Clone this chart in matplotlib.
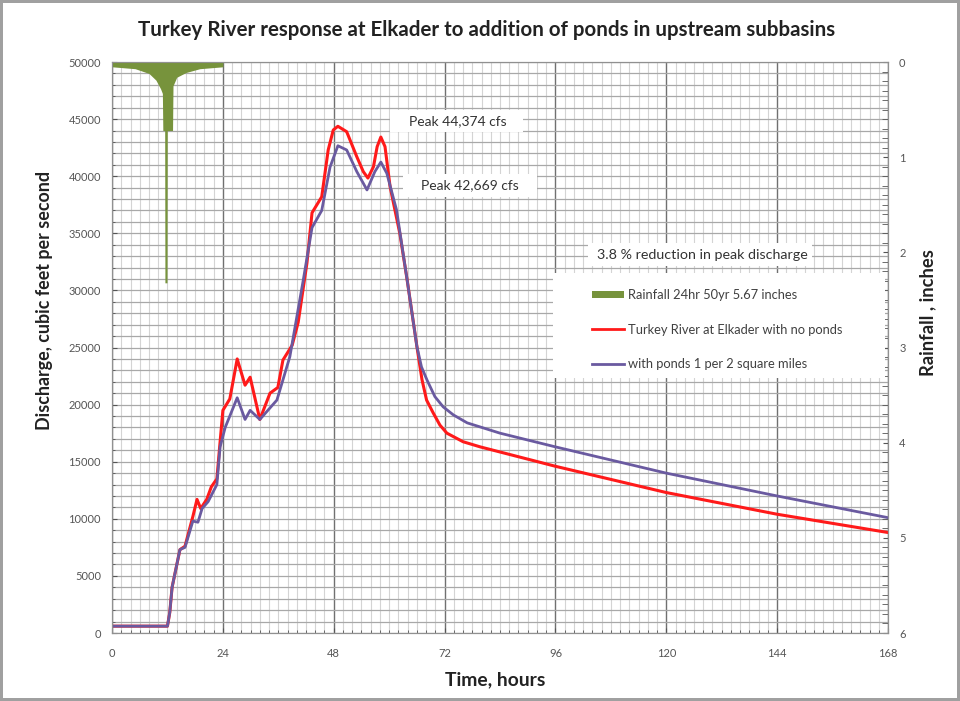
import numpy as np
import matplotlib.pyplot as plt
from matplotlib.patches import Patch, Rectangle
from matplotlib.lines import Line2D
from matplotlib.ticker import MultipleLocator

plt.rcParams['font.family'] = ['Lato', 'DejaVu Sans']

# 无池塘时的流量 (cfs)
t_no_ponds = [0, 12, 12.5, 13, 14.7, 15.8, 17.5, 18.4, 19.2, 20.5, 21.5, 22.7, 23.3, 24, 25.5,
              27.1, 28.8, 29.9, 32, 34.2, 35.9, 37, 39, 40.3, 42.2, 43.3, 45.4, 46.8, 47.9,
              48.9, 50.8, 53.0, 54.4, 55.4, 56.6, 57.4, 58.2, 59.1, 60.2, 62.3, 63.9, 66,
              67.1, 68.1, 69.5, 71, 72.5, 76, 79.7, 96, 120, 144, 168]
q_no_ponds = [600, 600, 1800, 4000, 7300, 7600, 10200, 11700, 10900, 11700, 12800, 13500, 16300,
              19500, 20500, 24000, 21700, 22400, 18700, 21000, 21500, 23900, 25200, 27200,
              32400, 36800, 38200, 42300, 44050, 44374, 43900, 41700, 40400, 39840, 40830,
              42590, 43430, 42590, 39080, 35000, 30900, 25100, 22200, 20400, 19300, 18200,
              17500, 16750, 16300, 14600, 12300, 10400, 8800]

# 有池塘时的流量 (cfs)
t_ponds = [0, 12, 12.5, 13, 14.7, 15.8, 17.5, 18.6, 19.5, 20.8, 22.7, 23.4, 24.5, 27.1, 28.8,
           29.9, 32, 35.7, 38.5, 41.4, 43.3, 45.4, 47.2, 48.9, 50.8, 53.0, 55.2, 56.9, 58.2,
           59.5, 61.6, 63.9, 66, 67.0, 68.2, 69.9, 71.7, 73.9, 76.9, 84, 96, 120, 144, 168]
q_ponds = [600, 600, 1800, 4000, 7300, 7500, 9800, 9700, 10900, 11500, 13000, 16300, 18000,
           20600, 18700, 19500, 18700, 20400, 24200, 30900, 35500, 37000, 40800, 42669, 42300,
           40400, 38800, 40400, 41240, 40250, 37040, 30900, 25100, 23300, 22150, 20700, 19800,
           19100, 18400, 17500, 16300, 14000, 12000, 10100]

# 降雨 (inches)
rain_t = [0, 5, 8, 9.5, 10.5, 10.9, 11.0, 11.4, 11.45, 11.9, 11.95, 13.1, 13.2, 14, 16, 19, 24]
rain_in = [0.05, 0.07, 0.12, 0.19, 0.28, 0.33, 0.72, 0.72, 2.32, 2.32, 0.72, 0.72, 0.25, 0.16,
           0.11, 0.07, 0.05]

x_ticks = [0, 24, 48, 72, 96, 120, 144, 168]
q_ticks = list(range(0, 50001, 5000))
r_ticks = [0, 1, 2, 3, 4, 5, 6]

red = '#ff1a1a'
purple = '#6a5aa0'
green = '#77933c'


def white_box(a, x0, y0, x1, y1, z=3):
    # 像素坐标 -> figure 坐标
    a.add_patch(Rectangle((x0 / 960, 1 - y1 / 701), (x1 - x0) / 960, (y1 - y0) / 701,
                          transform=fig.transFigure, facecolor='white', edgecolor='none', zorder=z))


fig = plt.figure(figsize=(9.6, 7.01), dpi=100, linewidth=3, edgecolor='#a0a0a0')
ax = fig.add_axes([0.1167, 0.097, 0.8083, 0.8145])
ax2 = ax.twinx()

# 网格
ax.set_xlim(0, 168)
ax.set_ylim(0, 50000)
ax.xaxis.set_minor_locator(MultipleLocator(2))
ax.yaxis.set_minor_locator(MultipleLocator(1000))
ax.grid(which='minor', axis='x', color='#d4d4d4', lw=0.8)
ax.grid(which='minor', axis='y', color='#a8a8a8', lw=0.9)
ax.grid(which='major', axis='x', color='#707070', lw=1.0)
ax.grid(which='major', axis='y', color='#a8a8a8', lw=0.9)

ax.plot(t_no_ponds, q_no_ponds, color=red, lw=2.2, solid_joinstyle='round')
ax.plot(t_ponds, q_ponds, color=purple, lw=2.0, solid_joinstyle='round')

ax.set_xticks(x_ticks)
ax.set_yticks(q_ticks)
ax.tick_params(axis='both', which='both', direction='in', labelsize=8, colors='#555555')
ax.tick_params(axis='x', pad=11)
ax.tick_params(axis='y', pad=8)

ax2.fill_between(rain_t, 0, rain_in, color=green, lw=0)
ax2.set_ylim(6, 0)
ax2.set_yticks(r_ticks)
ax2.yaxis.set_minor_locator(MultipleLocator(0.1))
ax2.tick_params(axis='y', which='both', direction='in', labelsize=8, colors='#555555', pad=8)
ax2.tick_params(axis='y', which='minor', length=4)

for a in (ax, ax2):
    for s in a.spines.values():
        s.set_color('#909090')

# 图例和说明框
white_box(ax2, 553, 273, 885, 378)
handles = [Patch(facecolor=green),
           Line2D([], [], color=red, lw=2),
           Line2D([], [], color=purple, lw=2)]
labels = ['Rainfall 24hr 50yr 5.67 inches',
          'Turkey River at Elkader with no ponds',
          'with ponds 1 per 2 square miles']
leg = ax2.legend(handles, labels, loc='upper left', bbox_to_anchor=(592 / 960, 1 - 289 / 701),
                 bbox_transform=fig.transFigure, frameon=False, fontsize=9.3, labelspacing=1.75,
                 handlelength=2.5, handleheight=0.55, handletextpad=0.25, borderaxespad=0,
                 borderpad=0)
for txt in leg.get_texts():
    txt.set_color('#404040')
leg.set_zorder(4)

white_box(ax2, 390, 110, 523, 132)
white_box(ax2, 403, 174, 537, 197)
white_box(ax2, 588, 243, 812, 266)
ax2.text(458 / 960, 1 - 121 / 701, 'Peak 44,374 cfs', transform=fig.transFigure, ha='center',
         va='center', fontsize=10, color='#333333', zorder=4)
ax2.text(470 / 960, 1 - 185 / 701, 'Peak 42,669 cfs', transform=fig.transFigure, ha='center',
         va='center', fontsize=10, color='#333333', zorder=4)
ax2.text(702 / 960, 1 - 255 / 701, '3.8 % reduction in peak discharge', transform=fig.transFigure,
         ha='center', va='center', fontsize=10.3, color='#333333', zorder=4)

fig.text(487 / 960, 1 - 30 / 701, 'Turkey River response at Elkader to addition of ponds in upstream subbasins',
         ha='center', va='center', fontsize=14.8, fontweight='bold', color='#222222')
fig.text(45 / 960, 1 - 300 / 701, 'Discharge, cubic feet per second', rotation=90, ha='center',
         va='center', fontsize=12.9, fontweight='bold', color='#222222')
fig.text(928 / 960, 1 - 313 / 701, 'Rainfall , inches', rotation=90, ha='center',
         va='center', fontsize=13.2, fontweight='bold', color='#222222')
fig.text(495 / 960, 1 - 680 / 701, 'Time, hours', ha='center', va='center', fontsize=13.9,
         fontweight='bold', color='#222222')

fig.savefig('out.png', dpi=100, edgecolor=fig.get_edgecolor())
